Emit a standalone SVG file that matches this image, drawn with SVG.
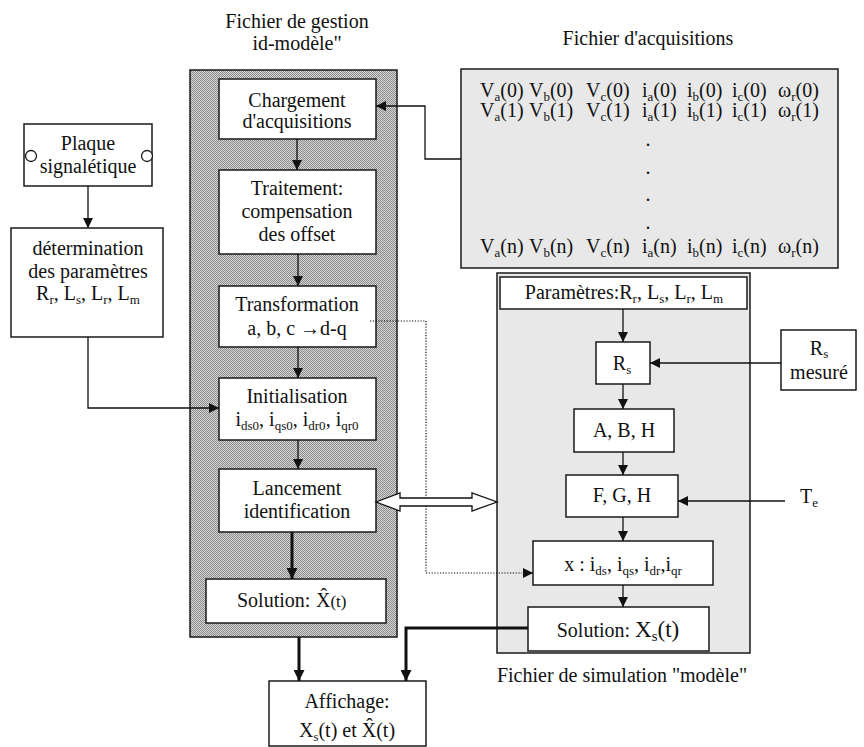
<svg xmlns="http://www.w3.org/2000/svg" width="864" height="747" viewBox="0 0 864 747">
<style>
.t{font-family:"Liberation Serif","Times New Roman",serif;font-size:20px;fill:#111}
.m{text-anchor:middle}
.s{font-size:13px}
.box{fill:#fff;stroke:#1a1a1a;stroke-width:1.5}
.panel{fill:#e8e8e8;stroke:#1a1a1a;stroke-width:1.5}
.c{fill:none;stroke:#111;stroke-width:1.3}
.k{fill:none;stroke:#111;stroke-width:3}
.d{fill:none;stroke:#111;stroke-width:1.2;stroke-dasharray:1.2 1.6}
</style>
<defs>
<pattern id="hatch" width="2" height="2" patternUnits="userSpaceOnUse">
<rect width="2" height="2" fill="#d6d6d6"/>
<rect width="1" height="1" fill="#8a8a8a"/>
<rect x="1" y="1" width="1" height="1" fill="#8a8a8a"/>
</pattern>
<marker id="ah" viewBox="0 0 10 10" refX="10" refY="5" markerWidth="10" markerHeight="11" markerUnits="userSpaceOnUse" orient="auto">
<path d="M0,0 L10,5 L0,10 z" fill="#111"/>
</marker>
<marker id="ahk" viewBox="0 0 10 10" refX="10" refY="5" markerWidth="12" markerHeight="11" markerUnits="userSpaceOnUse" orient="auto">
<path d="M0,0 L10,5 L0,10 z" fill="#111"/>
</marker>
</defs>
<rect width="864" height="747" fill="#fff"/>

<!-- titles -->
<text class="t m" x="297" y="28">Fichier de gestion</text>
<text class="t m" x="297" y="50">id-modèle"</text>
<text class="t m" x="648" y="45">Fichier d'acquisitions</text>
<text class="t m" x="622" y="682">Fichier de simulation "modèle"</text>

<!-- panels -->
<g id="panel-gestion"><rect x="190" y="70" width="207" height="567" fill="url(#hatch)" stroke="#1a1a1a" stroke-width="1.5"/></g>
<g id="panel-simulation"><rect class="panel" x="497" y="273" width="253" height="380"/></g>

<g id="acquisitions">
<rect class="panel" x="461" y="69" width="377" height="199"/>
<g class="t">
<text x="480" y="97">V<tspan class="s" dy="4">a</tspan><tspan dy="-4">(0)</tspan></text>
<text x="529" y="97">V<tspan class="s" dy="4">b</tspan><tspan dy="-4">(0)</tspan></text>
<text x="586" y="97">V<tspan class="s" dy="4">c</tspan><tspan dy="-4">(0)</tspan></text>
<text x="642" y="97">i<tspan class="s" dy="4">a</tspan><tspan dy="-4">(0)</tspan></text>
<text x="687" y="97">i<tspan class="s" dy="4">b</tspan><tspan dy="-4">(0)</tspan></text>
<text x="732" y="97">i<tspan class="s" dy="4">c</tspan><tspan dy="-4">(0)</tspan></text>
<text x="778" y="97">ω<tspan class="s" dy="4">r</tspan><tspan dy="-4">(0)</tspan></text>
<text x="480" y="117">V<tspan class="s" dy="4">a</tspan><tspan dy="-4">(1)</tspan></text>
<text x="529" y="117">V<tspan class="s" dy="4">b</tspan><tspan dy="-4">(1)</tspan></text>
<text x="586" y="117">V<tspan class="s" dy="4">c</tspan><tspan dy="-4">(1)</tspan></text>
<text x="642" y="117">i<tspan class="s" dy="4">a</tspan><tspan dy="-4">(1)</tspan></text>
<text x="687" y="117">i<tspan class="s" dy="4">b</tspan><tspan dy="-4">(1)</tspan></text>
<text x="732" y="117">i<tspan class="s" dy="4">c</tspan><tspan dy="-4">(1)</tspan></text>
<text x="778" y="117">ω<tspan class="s" dy="4">r</tspan><tspan dy="-4">(1)</tspan></text>
<text class="m" x="648" y="146">.</text>
<text class="m" x="648" y="174">.</text>
<text class="m" x="648" y="201">.</text>
<text class="m" x="648" y="229">.</text>
<text x="480" y="253">V<tspan class="s" dy="4">a</tspan><tspan dy="-4">(n)</tspan></text>
<text x="529" y="253">V<tspan class="s" dy="4">b</tspan><tspan dy="-4">(n)</tspan></text>
<text x="586" y="253">V<tspan class="s" dy="4">c</tspan><tspan dy="-4">(n)</tspan></text>
<text x="642" y="253">i<tspan class="s" dy="4">a</tspan><tspan dy="-4">(n)</tspan></text>
<text x="687" y="253">i<tspan class="s" dy="4">b</tspan><tspan dy="-4">(n)</tspan></text>
<text x="732" y="253">i<tspan class="s" dy="4">c</tspan><tspan dy="-4">(n)</tspan></text>
<text x="778" y="253">ω<tspan class="s" dy="4">r</tspan><tspan dy="-4">(n)</tspan></text>
</g>
</g>

<g id="plaque">
<rect class="box" x="24" y="124" width="128" height="62"/>
<circle cx="31" cy="156" r="5.5" fill="#fff" stroke="#1a1a1a" stroke-width="1.3"/>
<circle cx="147" cy="156" r="5.5" fill="#fff" stroke="#1a1a1a" stroke-width="1.3"/>
<text class="t m" x="88" y="150">Plaque</text>
<text class="t m" x="88" y="173">signalétique</text>
</g>

<g id="determination">
<rect class="box" x="11" y="228" width="152" height="109"/>
<text class="t m" x="88" y="255">détermination</text>
<text class="t m" x="88" y="278">des paramètres</text>
<text class="t m" x="88" y="300">R<tspan class="s" dy="4">r</tspan><tspan dy="-4">, L</tspan><tspan class="s" dy="4">s</tspan><tspan dy="-4">, L</tspan><tspan class="s" dy="4">r</tspan><tspan dy="-4">, L</tspan><tspan class="s" dy="4">m</tspan></text>
</g>

<g id="chargement">
<rect class="box" x="219" y="79" width="157" height="60"/>
<text class="t m" x="297" y="107">Chargement</text>
<text class="t m" x="297" y="128">d'acquisitions</text>
</g>

<g id="traitement">
<rect class="box" x="219" y="170" width="157" height="84"/>
<text class="t m" x="297" y="195">Traitement:</text>
<text class="t m" x="297" y="218">compensation</text>
<text class="t m" x="297" y="241">des offset</text>
</g>

<g id="transformation">
<rect class="box" x="219" y="286" width="157" height="61"/>
<text class="t m" x="297" y="311">Transformation</text>
<text class="t m" x="297" y="335">a, b, c →d-q</text>
</g>

<g id="initialisation">
<rect class="box" x="219" y="378" width="157" height="62"/>
<text class="t m" x="297" y="403">Initialisation</text>
<text class="t m" x="297" y="426">i<tspan class="s" dy="4">ds0</tspan><tspan dy="-4">, i</tspan><tspan class="s" dy="4">qs0</tspan><tspan dy="-4">, i</tspan><tspan class="s" dy="4">dr0</tspan><tspan dy="-4">, i</tspan><tspan class="s" dy="4">qr0</tspan></text>
</g>

<g id="lancement">
<rect class="box" x="219" y="469" width="157" height="63"/>
<text class="t m" x="297" y="495">Lancement</text>
<text class="t m" x="297" y="518">identification</text>
</g>

<g id="solution-id">
<rect class="box" x="206" y="579" width="180" height="44"/>
<text class="t" x="237" y="607">Solution:</text>
<text class="t" x="316" y="607">X̂<tspan font-size="17">(t)</tspan></text>
</g>

<g id="affichage">
<rect class="box" x="269" y="681" width="157" height="65"/>
<text class="t m" x="347" y="708">Affichage:</text>
<text class="t m" x="347" y="737">X<tspan class="s" dy="4">s</tspan><tspan dy="-4">(t) et  X̂(t)</tspan></text>
</g>

<g id="parametres">
<rect class="box" x="500" y="277" width="247" height="32"/>
<text class="t m" x="624" y="299">Paramètres:R<tspan class="s" dy="4">r</tspan><tspan dy="-4">, L</tspan><tspan class="s" dy="4">s</tspan><tspan dy="-4">, L</tspan><tspan class="s" dy="4">r</tspan><tspan dy="-4">, L</tspan><tspan class="s" dy="4">m</tspan></text>
</g>

<g id="rs">
<rect class="box" x="596" y="342" width="54" height="42"/>
<text class="t m" x="622" y="370">R<tspan class="s" dy="4">s</tspan></text>
</g>

<g id="rs-mesure">
<rect class="box" x="781" y="330" width="75" height="60"/>
<text class="t m" x="819" y="355">R<tspan class="s" dy="3">s</tspan></text>
<text class="t m" x="819" y="379">mesuré</text>
</g>

<g id="abh">
<rect class="box" x="574" y="409" width="100" height="43"/>
<text class="t m" x="624" y="437">A, B, H</text>
</g>

<g id="fgh">
<rect class="box" x="566" y="475" width="112" height="42"/>
<text class="t m" x="622" y="502">F, G, H</text>
</g>

<g id="te">
<text class="t" x="800" y="503">T<tspan class="s" dy="4">e</tspan></text>
</g>

<g id="x-state">
<rect class="box" x="533" y="541" width="180" height="44"/>
<text class="t m" x="623" y="571">x : i<tspan class="s" dy="4">ds</tspan><tspan dy="-4">, i</tspan><tspan class="s" dy="4">qs</tspan><tspan dy="-4">, i</tspan><tspan class="s" dy="4">dr</tspan><tspan dy="-4">,i</tspan><tspan class="s" dy="4">qr</tspan></text>
</g>

<g id="solution-sim">
<rect class="box" x="528" y="607" width="181" height="44"/>
<text class="t m" x="618" y="637">Solution: <tspan font-size="23">X</tspan><tspan font-size="15" dy="4">s</tspan><tspan font-size="23" dy="-4">(t)</tspan></text>
</g>

<g id="connectors">
<path class="c" d="M88,186 V228" marker-end="url(#ah)"/>
<path class="c" d="M88,337 V408 H219" marker-end="url(#ah)"/>
<path class="c" d="M461,159 H425 V106 H376" marker-end="url(#ah)"/>
<path class="c" d="M297,139 V170" marker-end="url(#ah)"/>
<path class="c" d="M298,254 V286" marker-end="url(#ah)"/>
<path class="c" d="M298,347 V378" marker-end="url(#ah)"/>
<path class="c" d="M298,440 V469" marker-end="url(#ah)"/>
<path class="k" d="M292,532 V579" marker-end="url(#ahk)"/>
<path class="k" d="M299,637 V681" marker-end="url(#ahk)"/>
<path class="k" d="M528,628 H406 V681" marker-end="url(#ahk)"/>
<path class="d" d="M370,321 H426 V573 H522"/>
<path class="c" d="M524,573 H533" marker-end="url(#ah)"/>
<polygon points="376,502 400,493 400,498 472,498 472,493 497,502 472,511 472,506 400,506 400,511" fill="#fff" stroke="#111" stroke-width="1.3" stroke-linejoin="miter"/>
<path class="c" d="M623,309 V342" marker-end="url(#ah)"/>
<path class="c" d="M781,363 H650" marker-end="url(#ah)"/>
<path class="c" d="M623,384 V409" marker-end="url(#ah)"/>
<path class="c" d="M623,452 V475" marker-end="url(#ah)"/>
<path class="c" d="M785,501 H678" marker-end="url(#ah)"/>
<path class="c" d="M623,517 V541" marker-end="url(#ah)"/>
<path class="c" d="M623,585 V607" marker-end="url(#ah)"/>
</g>
</svg>
